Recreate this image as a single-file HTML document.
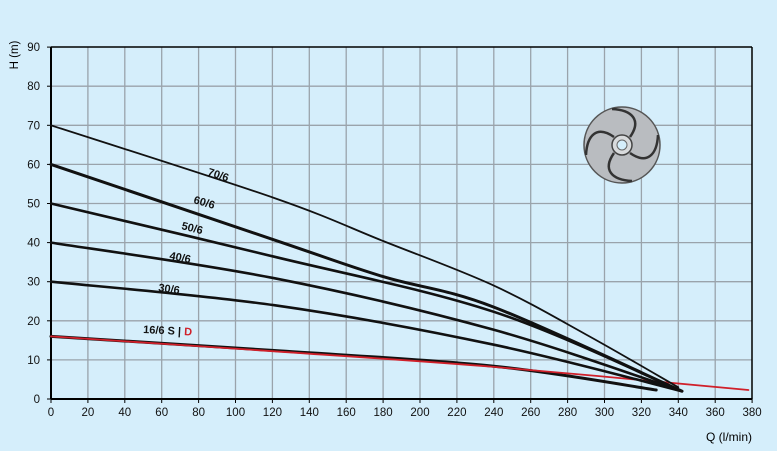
<!DOCTYPE html>
<html><head><style>
body{margin:0;background:#d5eefb;}
svg{display:block;font-family:"Liberation Sans",sans-serif;}
</style></head><body>
<svg id="s" width="777" height="451" xmlns="http://www.w3.org/2000/svg">
<rect width="777" height="451" fill="#d5eefb"/>
<g id="grid" stroke="#9aa3ab" stroke-width="1.3"></g>
<g id="ticks" font-size="11.5" fill="#111"></g>
<line x1="51" y1="47" x2="51" y2="399" stroke="#000" stroke-width="2"/>
<line x1="51" y1="399" x2="752" y2="399" stroke="#000" stroke-width="2"/>
<line x1="51" y1="47" x2="752" y2="47" stroke="#000" stroke-width="1.5"/>
<line x1="752" y1="47" x2="752" y2="399" stroke="#000" stroke-width="1.5"/>
<text x="18" y="55" font-size="11.5" transform="rotate(-90 18 55)" text-anchor="middle">H (m)</text>
<text x="752" y="441" font-size="12" text-anchor="end">Q (l/min)</text>
<g id="curves" fill="none" stroke-linecap="round" stroke-linejoin="round"></g>
<g font-size="11" font-weight="bold" fill="#111">
<text transform="translate(207,175) rotate(18)">70/6</text>
<text transform="translate(193,203) rotate(16)">60/6</text>
<text transform="translate(181,229) rotate(14)">50/6</text>
<text transform="translate(169,259) rotate(11)">40/6</text>
<text transform="translate(158,291) rotate(8)">30/6</text>
<text transform="translate(143,333) rotate(3)">16/6 S | <tspan fill="#d0202a">D</tspan></text>
</g>
<g transform="translate(622,145)">
<circle r="38" fill="#b9bcc0" stroke="#555" stroke-width="1.5"/>
<g fill="none" stroke="#333" stroke-width="2.5">
<path d="M8,-8 C20,-25 10,-35 -10,-36"/>
<path d="M8,8 C25,20 35,10 36,-10"/>
<path d="M-8,8 C-20,25 -10,35 10,36"/>
<path d="M-8,-8 C-25,-20 -35,-10 -36,10"/>
</g>
<circle r="10" fill="#d8dadc" stroke="#444" stroke-width="1.5"/>
<circle r="5" fill="#d5eefb" stroke="#666"/>
</g>
</svg>
<script>
var X=q=>51+q*1.845, Y=h=>399-h*3.91, ns="http://www.w3.org/2000/svg";
var g=document.getElementById('grid'),t=document.getElementById('ticks'),c=document.getElementById('curves');
function el(p,tag,a,txt){var e=document.createElementNS(ns,tag);for(var k in a)e.setAttribute(k,a[k]);if(txt)e.textContent=txt;p.appendChild(e);}
for(var q=20;q<380;q+=20)el(g,'line',{x1:X(q),x2:X(q),y1:47,y2:399});
for(var h=10;h<90;h+=10)el(g,'line',{x1:51,x2:752,y1:Y(h),y2:Y(h)});
for(var q=0;q<=380;q+=20){el(t,'text',{x:X(q),y:416,'text-anchor':'middle'},''+q);el(t,'line',{x1:X(q),x2:X(q),y1:399,y2:403,stroke:'#000'});}
for(var h=0;h<=90;h+=10){el(t,'text',{x:40,y:Y(h)+4,'text-anchor':'end'},''+h);el(t,'line',{x1:47,x2:51,y1:Y(h),y2:Y(h),stroke:'#000'});}
function curve(pts,w,col){
 var P=pts.map(p=>[X(p[0]),Y(p[1])]);
 var d='M'+P[0][0].toFixed(1)+','+P[0][1].toFixed(1);
 for(var i=0;i<P.length-1;i++){
  var p0=P[Math.max(i-1,0)],p1=P[i],p2=P[i+1],p3=P[Math.min(i+2,P.length-1)];
  var c1=[p1[0]+(p2[0]-p0[0])/6,p1[1]+(p2[1]-p0[1])/6],c2=[p2[0]-(p3[0]-p1[0])/6,p2[1]-(p3[1]-p1[1])/6];
  d+='C'+c1.map(v=>v.toFixed(1))+' '+c2.map(v=>v.toFixed(1))+' '+p2.map(v=>v.toFixed(1));
 }
 el(c,'path',{d:d,stroke:col,'stroke-width':w});
}
curve([[0,16],[121,12.4],[240,8.4],[328,2.3]],3,'#111');
curve([[0,16],[121,12.2],[240,8.2],[378,2.3]],1.8,'#d0202a');
curve([[0,30],[121,24],[240,13.9],[342,2]],2.6,'#111');
curve([[0,40],[121,30.9],[240,17.7],[342,2]],2.6,'#111');
curve([[0,50],[121,36.4],[240,22.3],[342,2]],2.6,'#111');
curve([[0,60],[121,40.7],[180,31.3],[240,23.5],[342,2]],3,'#111');
curve([[0,70],[121,51.4],[180,40.4],[240,29],[290,16.5],[340,3]],1.8,'#111');
</script>
</body></html>
